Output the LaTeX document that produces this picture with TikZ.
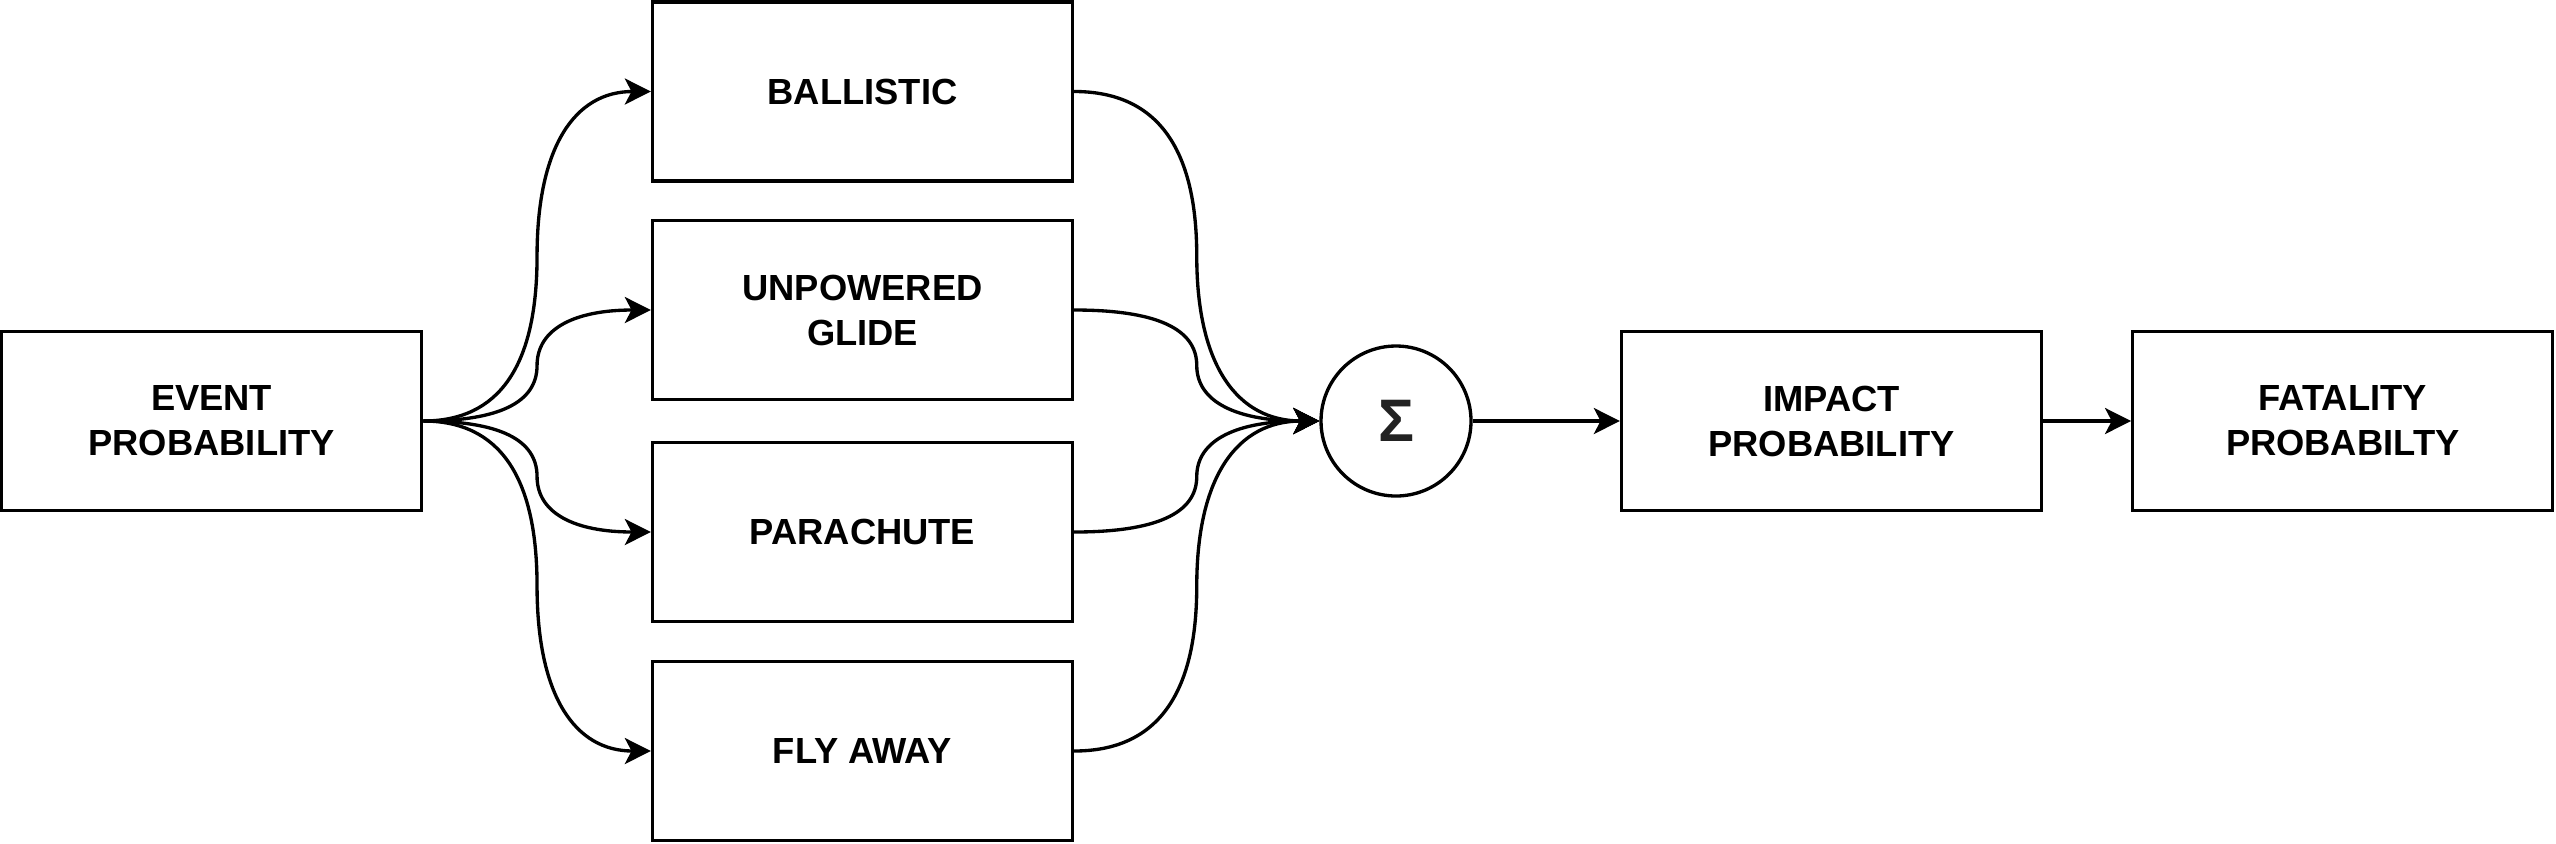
\documentclass[tikz,border=0pt]{standalone}
\usepackage{fontspec}
\setmainfont{Liberation Sans}
\usetikzlibrary{arrows.meta,calc}
\definecolor{sigcol}{HTML}{222222}
\begin{document}
\begin{tikzpicture}[x=0.3pt,y=-0.3pt,
  box/.style={draw=black,line width=1pt,rectangle,minimum width=126pt,minimum height=53.7pt,inner sep=0pt,align=center,
    font=\fontsize{10.9pt}{13.5pt}\selectfont\bfseries},
  sumnode/.style={draw=black,line width=1pt,circle,minimum size=45pt,inner sep=0pt,
    font=\fontsize{18pt}{18pt}\selectfont\bfseries,text=sigcol},
  conn/.style={line width=1pt,-{Stealth[length=7.8pt,width=7.8pt,inset=2pt]}},
  scurve/.style={to path={let \p1=(\tikztostart), \p2=(\tikztotarget) in
    .. controls ({\x1+(\x2-\x1)/3},\y1) and ({(\x1+\x2)/2},{(\y1+\y2)/2+(\y1-\y2)/3})
    .. ({(\x1+\x2)/2},{(\y1+\y2)/2})
    .. controls ({(\x1+\x2)/2},{(\y1+\y2)/2+(\y2-\y1)/3}) and ({\x2-(\x2-\x1)/3},\y2)
    .. (\p2) \tikztonodes}}]
\useasboundingbox (0,0) rectangle (2556,843);
\node[box] (ev) at (211.6,421) {EVENT\\PROBABILITY};
\node[box] (b1) at (862.5,91.5) {BALLISTIC};
\node[box] (b2) at (862.5,310) {UNPOWERED\\GLIDE};
\node[box] (b3) at (862.5,532) {PARACHUTE};
\node[box] (b4) at (862.5,751) {FLY AWAY};
\node[sumnode] (sig) at (1396,421) {Σ};
\node[box] (imp) at (1831.5,421) {IMPACT\\PROBABILITY};
\node[box] (fat) at (2342.7,421) {FATALITY\\PROBABILTY};
\foreach \b in {b1,b2,b3,b4}{
  \draw[conn] (ev.east) to[scurve] (\b.west);
  \draw[conn] (\b.east) to[scurve] (sig.west);
}
\draw[conn] (sig.east) -- (imp.west);
\draw[conn] (imp.east) -- (fat.west);
\end{tikzpicture}
\end{document}
